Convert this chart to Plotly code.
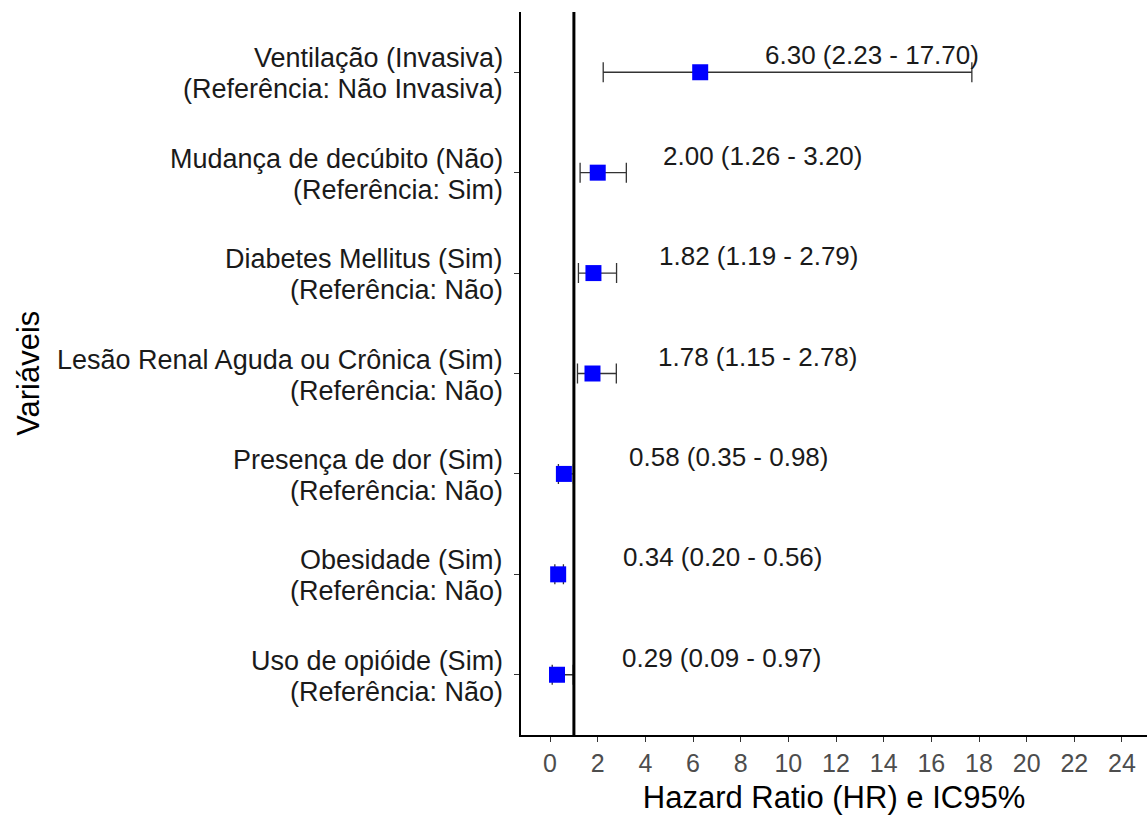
import plotly.graph_objects as go

label_line1 = [
    "Ventilação (Invasiva)",
    "Mudança de decúbito (Não)",
    "Diabetes Mellitus (Sim)",
    "Lesão Renal Aguda ou Crônica (Sim)",
    "Presença de dor (Sim)",
    "Obesidade (Sim)",
    "Uso de opióide (Sim)",
]
label_line2 = [
    "(Referência: Não Invasiva)",
    "(Referência: Sim)",
    "(Referência: Não)",
    "(Referência: Não)",
    "(Referência: Não)",
    "(Referência: Não)",
    "(Referência: Não)",
]
hr = [6.30, 2.00, 1.82, 1.78, 0.58, 0.34, 0.29]
lower = [2.23, 1.26, 1.19, 1.15, 0.35, 0.20, 0.09]
upper = [17.70, 3.20, 2.79, 2.78, 0.98, 0.56, 0.97]
x_ticks = list(range(0, 25, 2))

FONT = "Liberation Sans, Arial"
n = len(hr)
ypos = [n - 1 - i for i in range(n)]

fig = go.Figure()
fig.add_trace(go.Scatter(
    x=hr, y=ypos, mode="markers",
    marker=dict(symbol="square", size=16, color="#0000FF"),
    error_x=dict(type="data", symmetric=False,
                 array=[u - h for u, h in zip(upper, hr)],
                 arrayminus=[h - l for h, l in zip(hr, lower)],
                 color="#333333", thickness=1.3, width=10),
    showlegend=False, hoverinfo="skip",
))

for h, l, u, y in zip(hr, lower, upper, ypos):
    fig.add_annotation(
        x=h + 2.65, y=y, xref="x", yref="y",
        text=f"{h:.2f} ({l:.2f} - {u:.2f})",
        showarrow=False, xanchor="left", yanchor="middle", yshift=17,
        font=dict(family=FONT, size=26, color="#1a1a1a"),
    )

for t1, t2, y in zip(label_line1, label_line2, ypos):
    fig.add_annotation(x=0, y=y, xref="paper", yref="y", text=t1, showarrow=False,
                       xanchor="right", yanchor="middle", xshift=-16, yshift=14,
                       font=dict(family=FONT, size=27, color="#1a1a1a"))
    fig.add_annotation(x=0, y=y, xref="paper", yref="y", text=t2, showarrow=False,
                       xanchor="right", yanchor="middle", xshift=-16, yshift=-17,
                       font=dict(family=FONT, size=27, color="#1a1a1a"))

fig.add_annotation(x=-0.787, y=0.5, xref="paper", yref="paper", text="Variáveis",
                   showarrow=False, textangle=-90, xanchor="center", yanchor="middle",
                   font=dict(family=FONT, size=31, color="black"))

fig.add_shape(type="line", x0=1, x1=1, y0=0, y1=1, xref="x", yref="paper",
              line=dict(color="black", width=3), layer="above")

fig.update_layout(
    width=1147, height=815,
    margin=dict(l=521, r=0, t=12, b=80),
    plot_bgcolor="white", paper_bgcolor="white",
    font=dict(family=FONT, color="black"),
    xaxis=dict(
        range=[-1.22, 25.05], tickvals=x_ticks, ticktext=[str(t) for t in x_ticks],
        showgrid=False, zeroline=False, showline=True, linecolor="black", linewidth=1.5,
        ticks="outside", ticklen=5, tickcolor="#333333", tickwidth=1.3,
        tickfont=dict(family=FONT, size=25, color="#4D4D4D"),
        automargin=False,
        title=dict(text="Hazard Ratio (HR) e IC95%", font=dict(family=FONT, size=31, color="black"), standoff=11),
    ),
    yaxis=dict(
        range=[-0.6, 6.6], tickvals=ypos, showticklabels=False, automargin=False,
        showgrid=False, zeroline=False, showline=True, linecolor="black", linewidth=1.5,
        ticks="outside", ticklen=5, tickcolor="#333333", tickwidth=1.3,
    ),
)

fig.write_html("out.html")
